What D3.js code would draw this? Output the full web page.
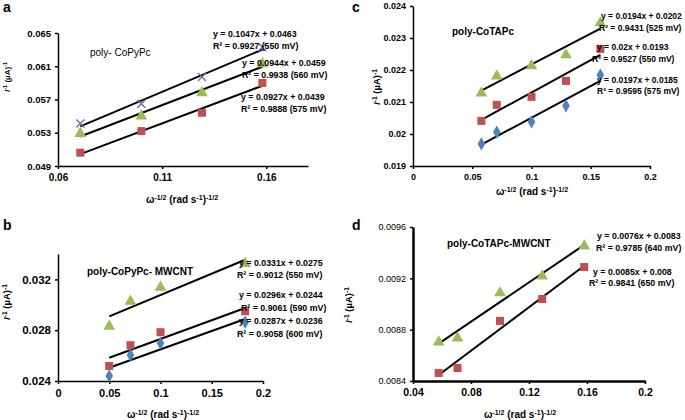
<!DOCTYPE html>
<html>
<head>
<meta charset="utf-8">
<script src="https://cdn.jsdelivr.net/npm/d3@7"></script>
<style>
  body { margin: 0; background: #fff; }
  svg { display: block; font-family: "Liberation Sans", Arial, sans-serif; }
</style>
</head>
<body>
<svg id="chart" width="685" height="420"></svg>
<script>
// ---- panel a : poly-CoPyPc ----
const aX = [0.0707, 0.1, 0.1291, 0.1581];
const a550 = [0.0541, 0.0565, 0.0597, 0.0633];
const a560 = [0.0529, 0.0550, 0.0578, 0.0613];
const a575 = [0.0506, 0.0532, 0.0554, 0.0590];
const aXTicks = [0.06, 0.11, 0.16];
const aYTicks = [0.049, 0.053, 0.057, 0.061, 0.065];
const aEq = ["y = 0.1047x + 0.0463", "R² = 0.9927 (550 mV)",
             "y = 0.0944x + 0.0459", "R² = 0.9938 (560 mV)",
             "y = 0.0927x + 0.0439", "R² = 0.9888 (575 mV)"];

// ---- panel b : poly-CoPyPc-MWCNT ----
const bX = [0.05, 0.0707, 0.1, 0.1826];
const b550 = [0.02831, 0.03027, 0.03137, 0.03325];
const b590 = [0.02518, 0.02682, 0.02784, 0.02949];
const b600 = [0.0244, 0.02604, 0.02698, 0.02863];
const bXTicks = [0, 0.05, 0.1, 0.15, 0.2];
const bYTicks = [0.024, 0.028, 0.032];
const bEq = ["y = 0.0331x + 0.0275", "R² = 0.9012 (550 mV)",
             "y = 0.0296x + 0.0244", "R² = 0.9061 (590 mV)",
             "y = 0.0287x + 0.0236", "R² = 0.9058  (600 mV)"];

// ---- panel c : poly-CoTAPc ----
const cX = [0.0577, 0.0707, 0.1, 0.1291, 0.1581];
const c525 = [0.02128, 0.02181, 0.02213, 0.02247, 0.02347];
const c550 = [0.02041, 0.02091, 0.02116, 0.02166, 0.02266];
const c575 = [0.01969, 0.02006, 0.02038, 0.02088, 0.02184];
const cXTicks = [0, 0.05, 0.1, 0.15, 0.2];
const cYTicks = [0.019, 0.02, 0.021, 0.022, 0.023, 0.024];
const cEq = ["y = 0.0194x + 0.0202", "R² = 0.9431 (525 mV)",
             "y = 0.02x + 0.0193", "R² = 0.9527 (550 mV)",
             "y = 0.0197x + 0.0185", "R² = 0.9595 (575 mV)"];

// ---- panel d : poly-CoTAPc-MWCNT ----
const dX = [0.0577, 0.0707, 0.1, 0.1291, 0.1581];
const d640 = [0.008704, 0.008735, 0.009086, 0.009218, 0.009452];
const d650 = [0.008462, 0.008501, 0.008868, 0.009039, 0.009288];
const dXTicks = [0.04, 0.08, 0.12, 0.16, 0.2];
const dYTicks = [0.0084, 0.0088, 0.0092, 0.0096];
const dEq = ["y = 0.0076x + 0.0083", "R² = 0.9785 (640 mV)",
             "y = 0.0085x + 0.008", "R² = 0.9841 (650 mV)"];

const PURPLE = "#8064A2", GREEN = "#9BBB59", RED = "#C0504D", BLUE = "#4F81BD";

const crossSym = {
  draw(ctx, size) {
    const r = Math.sqrt(size) / 2;
    ctx.moveTo(-r, -r); ctx.lineTo(r, r);
    ctx.moveTo(r, -r); ctx.lineTo(-r, r);
  }
};

const svg = d3.select("#chart");
const fmt = d => String(+d.toFixed(6));

// least squares fit, like the excel trendline
function fit(xs, ys) {
  const mx = d3.mean(xs), my = d3.mean(ys);
  const sxy = d3.sum(xs, (x, i) => (x - mx) * (ys[i] - my));
  const sxx = d3.sum(xs, x => (x - mx) * (x - mx));
  const m = sxy / sxx;
  return { m: m, b: my - m * mx };
}

// text with superscript pieces: [text, sup, italic]
function rich(sel, parts, size) {
  let shift = 0;
  parts.forEach(p => {
    const t = sel.append("tspan").text(p[0]);
    const want = p[1] ? -size * 0.35 : 0;
    if (p[1]) t.attr("font-size", size * 0.7);
    if (p[2]) t.attr("font-style", "italic");
    t.attr("dy", want - shift);
    shift = want;
  });
}

const xTitle = [["ω"], ["-1/2", 1], [" (rad s"], ["-1", 1], [")"], ["-1/2", 1]];
const yTitle = [["I", 0, 1], ["-1", 1], [" (µA)"], ["-1", 1]];

function drawPanel(p) {
  const x = d3.scaleLinear().domain(p.xDomain).range([p.left, p.right]);
  const y = d3.scaleLinear().domain(p.yDomain).range([p.bottom, p.top]);
  const g = svg.append("g");

  const xAxis = g.append("g")
    .attr("transform", `translate(0,${p.bottom})`)
    .call(d3.axisBottom(x).tickValues(p.xTicks).tickFormat(fmt).tickSizeInner(3).tickSizeOuter(0).tickPadding(5));
  const yAxis = g.append("g")
    .attr("transform", `translate(${p.left},0)`)
    .call(d3.axisLeft(y).tickValues(p.yTicks).tickFormat(fmt).tickSizeInner(3).tickSizeOuter(0).tickPadding(4));

  [xAxis, yAxis].forEach(ax => {
    ax.select(".domain").attr("stroke", "#000").attr("stroke-width", p.axisW);
    ax.selectAll(".tick line").attr("stroke", "#000").attr("stroke-width", 1.5);
    ax.selectAll("text").attr("fill", "#000").attr("font-family", "Liberation Sans, Arial, sans-serif");
  });
  xAxis.selectAll("text").attr("font-size", p.xTickSize).attr("font-weight", "bold");
  yAxis.selectAll("text").attr("font-size", p.yTickSize).attr("font-weight", p.yTickWeight);

  // trendlines
  p.series.forEach(s => {
    const f = fit(p.x, s.y);
    const x0 = d3.min(p.x), x1 = d3.max(p.x);
    g.append("line")
      .attr("x1", x(x0)).attr("y1", y(f.m * x0 + f.b))
      .attr("x2", x(x1)).attr("y2", y(f.m * x1 + f.b))
      .attr("stroke", "#000").attr("stroke-width", 2);
  });

  // markers
  p.series.forEach(s => {
    const sym = d3.symbol().type(s.sym).size(s.size);
    g.selectAll(null)
      .data(p.x.map((xv, i) => [xv, s.y[i]]))
      .join("path")
      .attr("transform", d => `translate(${x(d[0])},${y(d[1])})`)
      .attr("d", sym)
      .attr("fill", s.sym === crossSym ? "none" : s.color)
      .attr("stroke", s.sym === crossSym ? s.color : "none")
      .attr("stroke-width", 1.4);
  });

  // equations
  p.eq.forEach((t, i) => {
    g.append("text")
      .attr("x", p.eqPos[i][0]).attr("y", p.eqPos[i][1])
      .attr("font-size", p.eqSize).attr("font-weight", "bold")
      .text(t);
  });

  // title inside plot
  g.append("text")
    .attr("x", p.title[1]).attr("y", p.title[2])
    .attr("font-size", 10).attr("font-weight", p.titleWeight)
    .text(p.title[0]);

  // axis titles
  const xt = g.append("text")
    .attr("x", p.xTitlePos[0]).attr("y", p.xTitlePos[1])
    .attr("text-anchor", "middle").attr("font-size", 10).attr("font-weight", "bold");
  rich(xt, xTitle, 10);

  const yt = g.append("text")
    .attr("transform", `translate(${p.yTitlePos[0]},${p.yTitlePos[1]}) rotate(-90)`)
    .attr("text-anchor", "middle").attr("font-size", p.yTitleSize).attr("font-weight", "bold");
  rich(yt, yTitle, p.yTitleSize);

  // panel letter
  g.append("text")
    .attr("x", p.letter[1]).attr("y", p.letter[2])
    .attr("font-size", 14).attr("font-weight", "bold")
    .text(p.letter[0]);
}

drawPanel({
  left: 58, right: 308, top: 33, bottom: 166,
  xDomain: [0.06, 0.18], yDomain: [0.049, 0.065],
  xTicks: aXTicks, yTicks: aYTicks,
  xTickSize: 10, yTickSize: 9.5, yTickWeight: "bold", axisW: 1.5,
  x: aX,
  series: [
    { y: a550, color: PURPLE, sym: crossSym, size: 64 },
    { y: a560, color: GREEN, sym: d3.symbolTriangle, size: 60 },
    { y: a575, color: RED, sym: d3.symbolSquare, size: 64 }
  ],
  eq: aEq, eqSize: 8.8,
  eqPos: [[213, 37], [213, 49], [242, 66], [242, 78], [241, 100], [241, 112]],
  title: ["poly- CoPyPc", 90, 56], titleWeight: "normal",
  xTitlePos: [182, 203], yTitlePos: [10, 77], yTitleSize: 8,
  letter: ["a", 3, 12]
});

drawPanel({
  left: 413, right: 650, top: 6, bottom: 166,
  xDomain: [0, 0.2], yDomain: [0.019, 0.024],
  xTicks: cXTicks, yTicks: cYTicks,
  xTickSize: 9, yTickSize: 9, yTickWeight: "bold", axisW: 1.5,
  x: cX,
  series: [
    { y: c525, color: GREEN, sym: d3.symbolTriangle, size: 60 },
    { y: c550, color: RED, sym: d3.symbolSquare, size: 64 },
    { y: c575, color: BLUE, sym: d3.symbolDiamond, size: 50 }
  ],
  eq: cEq, eqSize: 8.5,
  eqPos: [[601, 19], [599, 31], [597, 50], [592, 62], [597, 83], [597, 94]],
  title: ["poly-CoTAPc", 452, 35], titleWeight: "bold",
  xTitlePos: [532, 195], yTitlePos: [380, 87], yTitleSize: 9.5,
  letter: ["c", 352, 12]
});

drawPanel({
  left: 58, right: 263, top: 254, bottom: 381,
  xDomain: [0, 0.2], yDomain: [0.024, 0.034],
  xTicks: bXTicks, yTicks: bYTicks,
  xTickSize: 11, yTickSize: 11.5, yTickWeight: "bold", axisW: 1.5,
  x: bX,
  series: [
    { y: b550, color: GREEN, sym: d3.symbolTriangle, size: 60 },
    { y: b590, color: RED, sym: d3.symbolSquare, size: 64 },
    { y: b600, color: BLUE, sym: d3.symbolDiamond, size: 50 }
  ],
  eq: bEq, eqSize: 8.8,
  eqPos: [[239, 266], [237, 278], [239, 298], [241, 311], [239, 324], [237, 337]],
  title: ["poly-CoPyPc- MWCNT", 87, 275], titleWeight: "bold",
  xTitlePos: [163, 418], yTitlePos: [10, 302], yTitleSize: 9.5,
  letter: ["b", 3, 230]
});

drawPanel({
  left: 413, right: 645, top: 227, bottom: 381,
  xDomain: [0.04, 0.2], yDomain: [0.0084, 0.0096],
  xTicks: dXTicks, yTicks: dYTicks,
  xTickSize: 10.5, yTickSize: 9, yTickWeight: "normal", axisW: 2.5,
  x: dX,
  series: [
    { y: d640, color: GREEN, sym: d3.symbolTriangle, size: 60 },
    { y: d650, color: RED, sym: d3.symbolSquare, size: 64 }
  ],
  eq: dEq, eqSize: 8.8,
  eqPos: [[597, 239], [596, 251], [593, 275], [589, 286]],
  title: ["poly-CoTAPc-MWCNT", 447, 247], titleWeight: "bold",
  xTitlePos: [520, 418], yTitlePos: [352, 305], yTitleSize: 9.5,
  letter: ["d", 352, 230]
});
</script>
</body>
</html>
